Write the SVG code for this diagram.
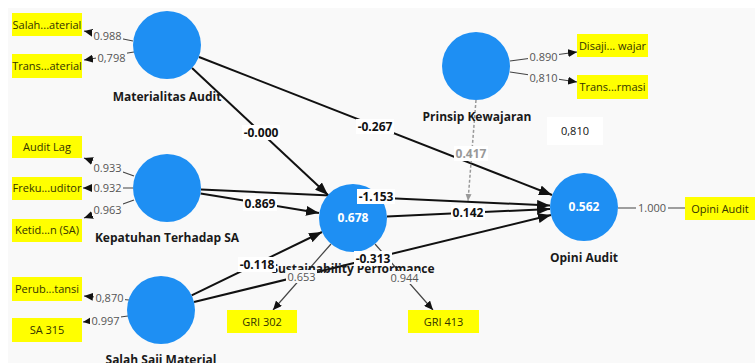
<svg xmlns="http://www.w3.org/2000/svg" width="755" height="363" viewBox="0 0 755 363">
<style>
.bg{fill:#f9f9f9}
.lv{fill:#1e8ff3}
.nl{font-family:"Open Sans","Noto Sans",sans-serif;font-size:12px;font-weight:bold;fill:#1a1a1a;text-anchor:middle}
.r2{font-family:"Open Sans","Noto Sans",sans-serif;font-size:12px;font-weight:bold;fill:#ffffff;text-anchor:middle}
.ind{fill:#ffff00}
.it{font-family:"Open Sans","Noto Sans",sans-serif;font-size:11px;fill:#333300;text-anchor:middle}
.sp{stroke:#111;stroke-width:2;fill:none}
.ol{stroke:#444;stroke-width:1.2;fill:none}
.mod{stroke:#999;stroke-width:1.5;stroke-dasharray:3 2;fill:none}
.cl{font-family:"Open Sans","Noto Sans",sans-serif;font-size:12px;font-weight:bold;fill:#111;text-anchor:middle}
.ml{font-family:"Open Sans","Noto Sans",sans-serif;font-size:12px;font-weight:bold;fill:#999;text-anchor:middle}
.lt{font-family:"Open Sans","Noto Sans",sans-serif;font-size:11px;fill:#555;text-anchor:middle}
.wb{fill:#ffffff}
.gb{fill:#f9f9f9}
</style>
<defs>
<marker id="ah" markerUnits="userSpaceOnUse" markerWidth="13" markerHeight="10" refX="13" refY="5" orient="auto"><path d="M0,0 L13,5 L0,10 z" fill="#111"/></marker>
<marker id="oh" markerUnits="userSpaceOnUse" markerWidth="9" markerHeight="8" refX="9" refY="4" orient="auto"><path d="M0,0 L9,4 L0,8 z" fill="#111"/></marker>
<marker id="mh" markerUnits="userSpaceOnUse" markerWidth="7" markerHeight="6" refX="7" refY="3" orient="auto"><path d="M0,0 L7,3 L0,6 z" fill="#999"/></marker>
</defs>
<rect x="0" y="0" width="755" height="363" fill="#ffffff"/>
<rect class="bg" x="8" y="8" width="747" height="355"/>

<g id="connectors">
<line class="sp" x1="192" y1="68" x2="328" y2="195" marker-end="url(#ah)"/>
<line class="sp" x1="199" y1="57" x2="552" y2="195" marker-end="url(#ah)"/>
<line class="sp" x1="201" y1="189.5" x2="550" y2="205.5" marker-end="url(#ah)"/>
<line class="sp" x1="200.6" y1="193.4" x2="319" y2="213" marker-end="url(#ah)"/>
<line class="sp" x1="387" y1="216.4" x2="550" y2="209" marker-end="url(#ah)"/>
<line class="sp" x1="191.6" y1="295.3" x2="322" y2="232" marker-end="url(#ah)"/>
<line class="sp" x1="194" y1="302" x2="551" y2="215" marker-end="url(#ah)"/>
<line class="mod" x1="476" y1="100" x2="468" y2="201" marker-end="url(#mh)"/>
<line class="ol" x1="331" y1="244" x2="273" y2="310" marker-end="url(#oh)"/>
<line class="ol" x1="375" y1="244" x2="433" y2="310" marker-end="url(#oh)"/>
<line class="ol" x1="133" y1="41" x2="84" y2="31" marker-end="url(#oh)"/>
<line class="ol" x1="134" y1="52" x2="84" y2="60" marker-end="url(#oh)"/>
<line class="ol" x1="134" y1="176" x2="84" y2="158" marker-end="url(#oh)"/>
<line class="ol" x1="133" y1="188" x2="83" y2="188" marker-end="url(#oh)"/>
<line class="ol" x1="134" y1="200" x2="84" y2="218" marker-end="url(#oh)"/>
<line class="ol" x1="129" y1="300" x2="84" y2="296" marker-end="url(#oh)"/>
<line class="ol" x1="128" y1="316" x2="83" y2="322" marker-end="url(#oh)"/>
<line class="ol" x1="510" y1="61" x2="577" y2="52" marker-end="url(#oh)"/>
<line class="ol" x1="510" y1="72" x2="577" y2="82" marker-end="url(#oh)"/>
<line class="ol" x1="618" y1="208" x2="685" y2="208"/>
</g>

<g id="node-materialitas">
<circle class="lv" cx="167" cy="45" r="34"/>
<text class="nl" x="167" y="101">Materialitas Audit</text>
</g>
<g id="node-kepatuhan">
<circle class="lv" cx="167" cy="188" r="34"/>
<text class="nl" x="167" y="242">Kepatuhan Terhadap SA</text>
</g>
<g id="node-salahsaji">
<circle class="lv" cx="161" cy="310" r="34"/>
<text class="nl" x="161" y="364">Salah Saji Material</text>
</g>
<g id="node-sustainability">
<circle class="lv" cx="353" cy="218" r="34"/>
<text class="r2" x="353" y="222">0.678</text>
<text class="nl" x="353" y="273">Sustainability Performance</text>
</g>
<g id="node-prinsip">
<circle class="lv" cx="476" cy="66" r="34"/>
<text class="nl" x="477" y="121">Prinsip Kewajaran</text>
</g>
<g id="node-opini">
<circle class="lv" cx="584" cy="207" r="34"/>
<text class="r2" x="584" y="211">0.562</text>
<text class="nl" x="584" y="262">Opini Audit</text>
</g>

<g id="ind-salah-material">
<rect class="ind" x="12" y="13" width="70" height="23"/>
<text class="it" x="47" y="28.5">Salah...aterial</text>
</g>
<g id="ind-trans-material">
<rect class="ind" x="12" y="54" width="70" height="24"/>
<text class="it" x="47" y="70">Trans...aterial</text>
</g>
<g id="ind-audit-lag">
<rect class="ind" x="12" y="136" width="70" height="22"/>
<text class="it" x="47" y="151">Audit Lag</text>
</g>
<g id="ind-freku">
<rect class="ind" x="12" y="177" width="70" height="23"/>
<text class="it" x="47" y="192">Freku...uditor</text>
</g>
<g id="ind-ketid">
<rect class="ind" x="12" y="219" width="70" height="23"/>
<text class="it" x="47" y="234">Ketid...n (SA)</text>
</g>
<g id="ind-perub">
<rect class="ind" x="12" y="277" width="70" height="24"/>
<text class="it" x="47" y="293">Perub...tansi</text>
</g>
<g id="ind-sa315">
<rect class="ind" x="12" y="318" width="70" height="24"/>
<text class="it" x="47" y="334">SA 315</text>
</g>
<g id="ind-disaji">
<rect class="ind" x="577" y="34" width="71" height="23"/>
<text class="it" x="612.5" y="49.5">Disaji... wajar</text>
</g>
<g id="ind-trans-informasi">
<rect class="ind" x="577" y="75" width="71" height="24"/>
<text class="it" x="612.5" y="91">Trans...rmasi</text>
</g>
<g id="ind-opini">
<rect class="ind" x="685" y="197" width="70" height="23"/>
<text class="it" x="720" y="212.5">Opini Audit</text>
</g>
<g id="ind-gri302">
<rect class="ind" x="227" y="310" width="70" height="23"/>
<text class="it" x="262" y="325.5">GRI 302</text>
</g>
<g id="ind-gri413">
<rect class="ind" x="408" y="310" width="71" height="23"/>
<text class="it" x="443.5" y="325.5">GRI 413</text>
</g>

<g id="connector-labels">
<rect class="wb" x="242" y="125" width="38" height="15"/><text class="cl" x="261" y="137">-0.000</text>
<rect class="wb" x="356" y="119" width="38" height="15"/><text class="cl" x="375" y="131">-0.267</text>
<rect class="wb" x="243" y="196" width="34" height="15"/><text class="cl" x="260" y="208">0.869</text>
<rect class="wb" x="357" y="189" width="38" height="15"/><text class="cl" x="376" y="201">-1.153</text>
<rect class="wb" x="451" y="205" width="34" height="15"/><text class="cl" x="468" y="217">0.142</text>
<rect class="wb" x="238" y="257" width="38" height="15"/><text class="cl" x="257" y="269">-0.118</text>
<rect class="wb" x="354" y="251" width="38" height="15"/><text class="cl" x="373" y="263">-0.313</text>
<rect class="wb" x="454" y="146" width="34" height="15"/><text class="ml" x="471" y="158">0.417</text>
<rect class="gb" x="92" y="30" width="31" height="13"/><text class="lt" x="107.5" y="40">0.988</text>
<rect class="gb" x="96" y="52" width="31" height="13"/><text class="lt" x="111.5" y="62">0,798</text>
<rect class="gb" x="92" y="161" width="31" height="13"/><text class="lt" x="107.5" y="171.5">0.933</text>
<rect class="gb" x="92" y="181" width="31" height="13"/><text class="lt" x="107.5" y="192">0.932</text>
<rect class="gb" x="92" y="203" width="31" height="13"/><text class="lt" x="107.5" y="213.5">0.963</text>
<rect class="gb" x="94" y="291" width="31" height="13"/><text class="lt" x="109.5" y="302">0,870</text>
<rect class="gb" x="90" y="314" width="31" height="13"/><text class="lt" x="105.5" y="325">0.997</text>
<rect class="gb" x="528" y="50" width="31" height="13"/><text class="lt" x="543.5" y="61">0.890</text>
<rect class="gb" x="528" y="71" width="31" height="13"/><text class="lt" x="543.5" y="82">0,810</text>
<rect class="gb" x="636" y="201" width="32" height="13"/><text class="lt" x="652" y="212">1.000</text>
<rect class="gb" x="286" y="270" width="31" height="13"/><text class="lt" x="301.5" y="281">0.653</text>
<rect class="gb" x="389" y="271" width="31" height="13"/><text class="lt" x="404.5" y="282">0.944</text>
</g>

<g id="note-0810">
<rect class="wb" x="547" y="117" width="56" height="28"/>
<text font-family="Open Sans, Noto Sans, sans-serif" font-size="11" fill="#111" text-anchor="middle" x="575" y="135">0,810</text>
</g>
</svg>
